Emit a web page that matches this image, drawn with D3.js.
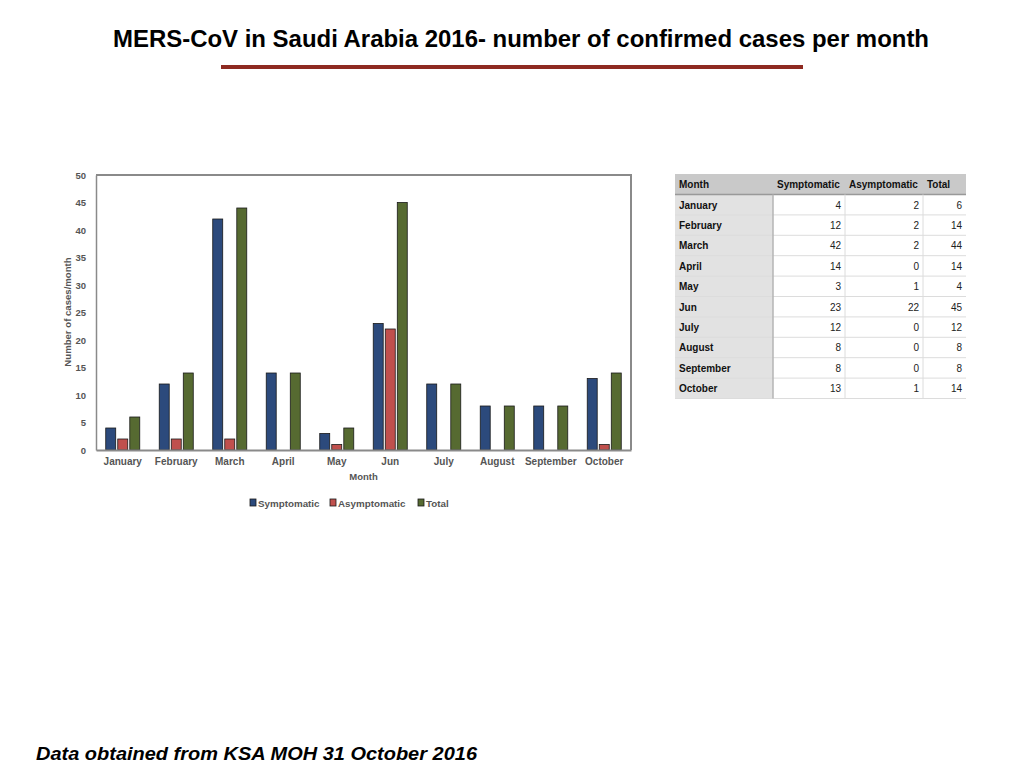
<!DOCTYPE html>
<html>
<head>
<meta charset="utf-8">
<script src="https://cdn.jsdelivr.net/npm/d3@7"></script>
<style>
  body { margin: 0; background: #fff; }
  svg { display: block; font-family: "Liberation Sans", Arial, sans-serif; }
</style>
</head>
<body>
<svg id="chart" width="1024" height="768"></svg>
<script>
// data
const months = ['January', 'February', 'March', 'April', 'May', 'Jun', 'July', 'August', 'September', 'October'];
const symptomatic = [4, 12, 42, 14, 3, 23, 12, 8, 8, 13];
const asymptomatic = [2, 2, 2, 0, 1, 22, 0, 0, 0, 1];
const total = [6, 14, 44, 14, 4, 45, 12, 8, 8, 14];
const seriesNames = ['Symptomatic', 'Asymptomatic', 'Total'];
const yTicks = [0, 5, 10, 15, 20, 25, 30, 35, 40, 45, 50];

const colors = { Symptomatic: '#2c4a7c', Asymptomatic: '#c0504d', Total: '#566a31' };
const seriesData = { Symptomatic: symptomatic, Asymptomatic: asymptomatic, Total: total };

const svg = d3.select('#chart');

// title + rule
svg.append('text')
  .attr('x', 521).attr('y', 47)
  .attr('text-anchor', 'middle')
  .attr('font-family', '"Liberation Sans Narrow", "Liberation Sans", Arial, sans-serif')
  .attr('font-size', 24).attr('font-weight', 'bold')
  .attr('textLength', 816).attr('lengthAdjust', 'spacingAndGlyphs')
  .attr('fill', '#000')
  .text('MERS-CoV in Saudi Arabia 2016- number of confirmed cases per month');

svg.append('rect')
  .attr('x', 221).attr('y', 65).attr('width', 582).attr('height', 4)
  .attr('fill', '#8e2a21');

// footer
svg.append('text')
  .attr('x', 36).attr('y', 760)
  .attr('font-size', 19).attr('font-weight', 'bold').attr('font-style', 'italic')
  .attr('textLength', 441).attr('lengthAdjust', 'spacingAndGlyphs')
  .text('Data obtained from KSA MOH 31 October 2016');

// chart area
const plotLeft = 96, plotRight = 631, plotTop = 175, plotBottom = 450;

const x = d3.scaleBand().domain(months).range([plotLeft, plotRight]).paddingInner(0.364).paddingOuter(0.182);
const xs = d3.scaleBand().domain(seriesNames).range([0, x.bandwidth()]).paddingInner(0.17);
const y = d3.scaleLinear().domain([0, 50]).range([plotBottom, plotTop]);

const g = svg.append('g');

// frame (top + right)
g.append('path')
  .attr('d', `M${plotLeft},${plotTop}H${plotRight}V${plotBottom}`)
  .attr('fill', 'none').attr('stroke', '#8a8a8a').attr('stroke-width', 2);

// bars
const groups = g.selectAll('.grp')
  .data(months)
  .enter().append('g')
  .attr('class', 'grp')
  .attr('transform', d => `translate(${x(d)},0)`);

groups.selectAll('rect')
  .data((m, i) => seriesNames.map(s => ({ s, v: seriesData[s][i] })).filter(d => d.v > 0))
  .enter().append('rect')
  .attr('x', d => xs(d.s))
  .attr('y', d => y(d.v))
  .attr('width', xs.bandwidth())
  .attr('height', d => y(0) - y(d.v))
  .attr('fill', d => colors[d.s])
  .attr('stroke', '#1a1a1a').attr('stroke-width', 0.8);

// y axis
const yAxis = g.append('g')
  .attr('transform', `translate(${plotLeft},0)`)
  .call(d3.axisLeft(y).tickValues(yTicks).tickSize(0).tickPadding(10));
yAxis.select('.domain').attr('stroke', '#8a8a8a').attr('stroke-width', 1.5);
yAxis.selectAll('text')
  .attr('font-size', 9.5).attr('font-weight', 'bold').attr('fill', '#555')
  .attr('font-family', '"Liberation Sans", Arial, sans-serif');

// x axis
const xAxis = g.append('g')
  .attr('transform', `translate(0,${plotBottom})`)
  .call(d3.axisBottom(x).tickSize(0).tickPadding(8));
xAxis.select('.domain').attr('stroke', '#8a8a8a').attr('stroke-width', 2);
xAxis.selectAll('text')
  .attr('font-size', 10).attr('font-weight', 'bold').attr('fill', '#555')
  .attr('font-family', '"Liberation Sans", Arial, sans-serif');

// axis titles
g.append('text')
  .attr('x', (plotLeft + plotRight) / 2).attr('y', 480)
  .attr('text-anchor', 'middle')
  .attr('font-size', 9.5).attr('font-weight', 'bold').attr('fill', '#555')
  .text('Month');

g.append('text')
  .attr('transform', 'translate(71,312) rotate(-90)')
  .attr('text-anchor', 'middle')
  .attr('font-size', 9.6).attr('font-weight', 'bold').attr('fill', '#555')
  .text('Number of cases/month');

// legend
const legendX = [250, 330, 418];
const legend = g.selectAll('.legend-item')
  .data(seriesNames)
  .enter().append('g')
  .attr('class', 'legend-item')
  .attr('transform', (d, i) => `translate(${legendX[i]},499)`);

legend.append('rect')
  .attr('width', 6).attr('height', 7)
  .attr('fill', d => colors[d])
  .attr('stroke', '#1a1a1a').attr('stroke-width', 0.8);

legend.append('text')
  .attr('x', 8).attr('y', 7.5)
  .attr('font-size', 9.8).attr('font-weight', 'bold').attr('fill', '#555')
  .text(d => d);

// data table
const colX = [675, 773, 845, 923, 966];
const headers = ['Month', 'Symptomatic', 'Asymptomatic', 'Total'];
const tTop = 174, headH = 20.5, rowH = 20.4;
const tbl = svg.append('g').attr('font-size', 10);

tbl.append('rect')
  .attr('x', colX[0]).attr('y', tTop).attr('width', colX[4] - colX[0]).attr('height', headH)
  .attr('fill', '#c9c9c9');
tbl.append('rect')
  .attr('x', colX[0]).attr('y', tTop + headH).attr('width', colX[1] - colX[0]).attr('height', rowH * months.length)
  .attr('fill', '#e2e2e2');

tbl.selectAll('.hdr')
  .data(headers)
  .enter().append('text')
  .attr('class', 'hdr')
  .attr('x', (d, i) => colX[i] + 4)
  .attr('y', tTop + 14)
  .attr('font-weight', 'bold').attr('fill', '#111')
  .text(d => d);

// row separators
tbl.selectAll('.hline')
  .data(d3.range(months.length + 1))
  .enter().append('line')
  .attr('x1', colX[0]).attr('x2', colX[4])
  .attr('y1', i => tTop + headH + i * rowH).attr('y2', i => tTop + headH + i * rowH)
  .attr('stroke', i => i === 0 ? '#999' : '#dcdcdc').attr('stroke-width', i => i === 0 ? 1.5 : 1);

// column separators
tbl.selectAll('.vline')
  .data([1, 2, 3])
  .enter().append('line')
  .attr('x1', i => colX[i]).attr('x2', i => colX[i])
  .attr('y1', tTop + headH).attr('y2', tTop + headH + rowH * months.length)
  .attr('stroke', i => i === 1 ? '#b5b5b5' : '#dcdcdc').attr('stroke-width', i => i === 1 ? 1.5 : 1);

const rows = tbl.selectAll('.row')
  .data(months)
  .enter().append('g')
  .attr('class', 'row')
  .attr('transform', (d, i) => `translate(0,${tTop + headH + i * rowH})`);

rows.append('text')
  .attr('x', colX[0] + 4).attr('y', 14)
  .attr('font-weight', 'bold').attr('fill', '#111')
  .text(d => d);

[symptomatic, asymptomatic, total].forEach((arr, c) => {
  rows.append('text')
    .attr('x', colX[c + 2] - 4).attr('y', 14)
    .attr('text-anchor', 'end').attr('fill', '#222')
    .text((d, i) => arr[i]);
});
</script>
</body>
</html>
